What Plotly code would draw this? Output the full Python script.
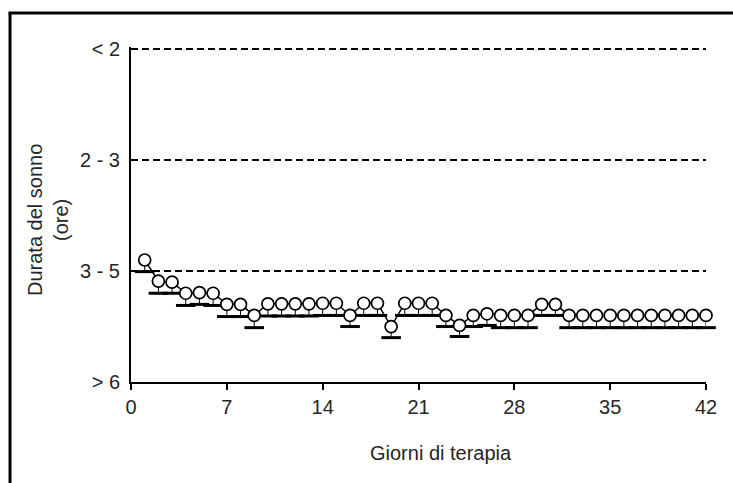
import plotly.graph_objects as go

# Data
days = list(range(1, 43))
mean_score = [1.10, 0.91, 0.90, 0.80, 0.805, 0.80, 0.70, 0.70, 0.60, 0.705,
              0.705, 0.705, 0.705, 0.71, 0.71, 0.60, 0.71, 0.71, 0.50, 0.71,
              0.71, 0.71, 0.60, 0.51, 0.60, 0.615, 0.60, 0.60, 0.60, 0.70,
              0.70, 0.60, 0.60, 0.60, 0.60, 0.60, 0.60, 0.60, 0.60, 0.60,
              0.60, 0.60]
sem = [0.105, 0.11, 0.10, 0.11, 0.105, 0.11, 0.11, 0.11, 0.11, 0.11,
       0.11, 0.11, 0.11, 0.11, 0.11, 0.10, 0.11, 0.11, 0.10, 0.11,
       0.11, 0.11, 0.10, 0.10, 0.10, 0.105, 0.11, 0.11, 0.11, 0.10,
       0.10, 0.11, 0.11, 0.11, 0.11, 0.11, 0.11, 0.11, 0.11, 0.11,
       0.11, 0.11]
y_tickvals = [0, 1, 2, 3]
y_ticklabels = ["> 6", "3 - 5", "2 - 3", "< 2"]
x_tickvals = [0, 7, 14, 21, 28, 35, 42]

low = [m - s for m, s in zip(mean_score, sem)]
zeros = [0] * len(days)

FONT = "Liberation Sans, Arial, Helvetica, sans-serif"
TXT = "#262626"
FS = 20

fig = go.Figure()

# caps of the error bars
fig.add_trace(go.Scatter(
    x=days, y=low, mode="markers",
    marker=dict(symbol="line-ew", size=14, color="black",
                line=dict(color="black", width=3)),
    cliponaxis=False, hoverinfo="skip", showlegend=False))

# mean line with open circles and stems
fig.add_trace(go.Scatter(
    x=days, y=mean_score, mode="lines+markers",
    line=dict(color="black", width=1.5),
    marker=dict(symbol="circle", size=12, color="white",
                line=dict(color="black", width=1.7)),
    error_y=dict(type="data", symmetric=False, array=zeros, arrayminus=sem,
                 color="black", thickness=1, width=0),
    cliponaxis=False, showlegend=False))

fig.update_layout(
    width=733, height=483,
    margin=dict(l=131, r=27, t=47, b=101),
    paper_bgcolor="white", plot_bgcolor="white",
    font=dict(family=FONT, size=FS, color=TXT),
    xaxis=dict(range=[0, 42], tickvals=x_tickvals, ticks="outside", ticklen=6,
               tickwidth=2, tickcolor="black", showline=True, linecolor="black",
               linewidth=2, showgrid=False, zeroline=False,
               tickfont=dict(family=FONT, size=FS, color=TXT)),
    yaxis=dict(range=[0, 3.02], tickvals=y_tickvals, ticktext=y_ticklabels,
               ticks="outside", ticklen=5, tickcolor="rgba(0,0,0,0)",
               showline=True, linecolor="black", linewidth=2,
               showgrid=True, gridcolor="black", gridwidth=2, griddash="7px,4px",
               zeroline=False,
               tickfont=dict(family=FONT, size=FS, color=TXT)),
    shapes=[
        dict(type="line", xref="paper", yref="paper", x0=-0.2104, x1=-0.2104,
             y0=1.1015, y1=-0.35, line=dict(color="black", width=3)),
        dict(type="line", xref="paper", yref="paper", x0=-0.2130, x1=1.06,
             y0=1.1015, y1=1.1015, line=dict(color="black", width=3)),
    ],
    annotations=[
        dict(text="Giorni di terapia", xref="paper", yref="paper",
             x=(441 - 131) / 575, y=(382 - 453) / 335, xanchor="center",
             yanchor="middle", showarrow=False,
             font=dict(family=FONT, size=FS, color=TXT)),
        dict(text="Durata del sonno<br>(ore)", xref="paper", yref="paper",
             x=(48 - 131) / 575, y=(382 - 220) / 335, xanchor="center",
             yanchor="middle", showarrow=False, textangle=-90,
             font=dict(family=FONT, size=FS, color=TXT)),
    ],
)

fig.write_html("out.html", config={"displayModeBar": False},
               post_script="document.body.style.margin='0';")
